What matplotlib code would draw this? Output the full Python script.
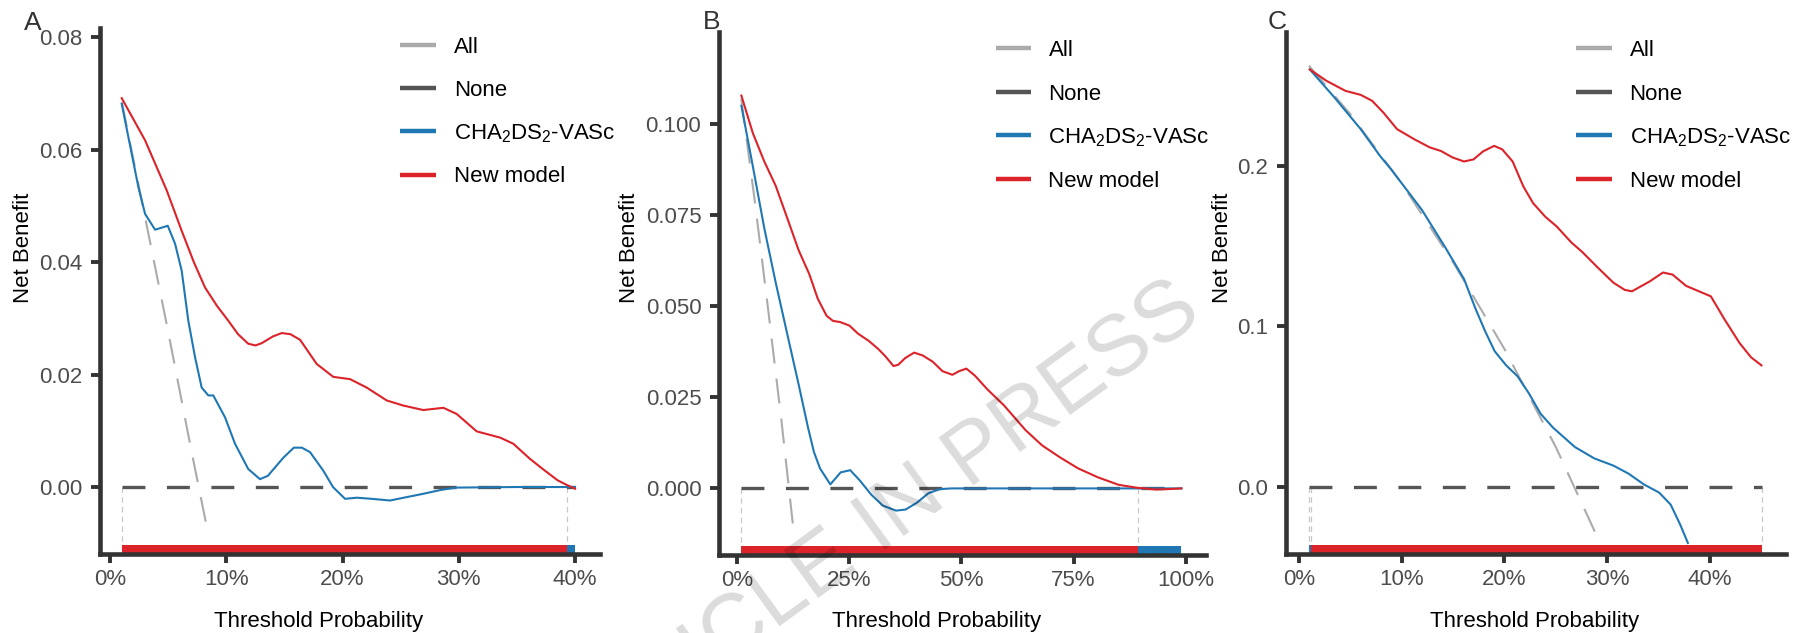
import matplotlib
matplotlib.use('Agg')
import matplotlib.pyplot as plt
from matplotlib.transforms import blended_transform_factory
from matplotlib.patches import Rectangle
from matplotlib.lines import Line2D

plt.rcParams['font.family'] = ['Liberation Sans', 'DejaVu Sans']
plt.rcParams['mathtext.fontset'] = 'custom'
plt.rcParams['mathtext.rm'] = 'Liberation Sans'
plt.rcParams['lines.scale_dashes'] = False

# ---------------- data ----------------
legend_labels = ['All', 'None', r'CHA$_\mathregular{2}$DS$_\mathregular{2}$-VASc', 'New model']

# Panel A
thr_A_new = [0.0099, 0.0300, 0.0486, 0.0615, 0.0720, 0.0816, 0.0920, 0.1016, 0.1100, 0.1188,
             0.1250, 0.1304, 0.1400, 0.1476, 0.1550, 0.1634, 0.1777, 0.1920, 0.2064, 0.2207,
             0.2380, 0.2522, 0.2694, 0.2867, 0.2982, 0.3154, 0.3355, 0.3469, 0.3613, 0.3729,
             0.3850, 0.3926, 0.4000]
nb_A_new = [0.0692, 0.0617, 0.0528, 0.0456, 0.0400, 0.0355, 0.0322, 0.0296, 0.0272, 0.0255,
            0.0252, 0.0256, 0.0268, 0.0274, 0.0272, 0.0262, 0.0219, 0.0196, 0.0192, 0.0177,
            0.0154, 0.0145, 0.0137, 0.0141, 0.0130, 0.0099, 0.0088, 0.0077, 0.0050, 0.0031,
            0.0012, 0.0004, -0.0003]
thr_A_cha = [0.0099, 0.0185, 0.0242, 0.0300, 0.0386, 0.0450, 0.0495, 0.0558, 0.0615, 0.0672,
             0.0730, 0.0787, 0.0844, 0.0887, 0.0988, 0.1074, 0.1188, 0.1289, 0.1357, 0.1489,
             0.1580, 0.1650, 0.1720, 0.1834, 0.1917, 0.2021, 0.2121, 0.2250, 0.2408, 0.2550,
             0.2695, 0.2850, 0.2982, 0.3500, 0.4000]
nb_A_cha = [0.0682, 0.0593, 0.0534, 0.0486, 0.0458, 0.0462, 0.0465, 0.0433, 0.0385, 0.0296,
            0.0231, 0.0177, 0.0163, 0.0163, 0.0124, 0.0077, 0.0032, 0.0014, 0.0020, 0.0052,
            0.0070, 0.0070, 0.0062, 0.0029, 0.0000, -0.0021, -0.0019, -0.0021, -0.0024, -0.0018,
            -0.0012, -0.0005, -0.0001, 0.0000, 0.0000]
thr_A_all = [0.01, 0.03, 0.05, 0.07, 0.083]
nb_A_all = [0.0685, 0.0480, 0.0275, 0.0063, -0.0070]
thr_A_none = [0.01, 0.40]
bar_A_edges = [0.01, 0.3928, 0.40]
bar_A_best = ['New model', 'CHA2DS2-VASc']
vline_A = [0.01, 0.3928]

# Panel B
thr_B_new = [0.0102, 0.0357, 0.0612, 0.0734, 0.0867, 0.1122, 0.1378, 0.1616, 0.1803, 0.2000,
             0.2143, 0.2300, 0.2510, 0.2700, 0.2940, 0.3150, 0.3300, 0.3490, 0.3600, 0.3750,
             0.3950, 0.4141, 0.4363, 0.4580, 0.4800, 0.4950, 0.5112, 0.5300, 0.5580, 0.5950,
             0.6430, 0.6800, 0.7200, 0.7600, 0.8050, 0.8500, 0.8900, 0.9330, 0.9600, 0.9900]
nb_B_new = [0.1079, 0.0976, 0.0898, 0.0866, 0.0831, 0.0743, 0.0654, 0.0588, 0.0521, 0.0474,
            0.0460, 0.0457, 0.0447, 0.0425, 0.0405, 0.0383, 0.0364, 0.0336, 0.0340, 0.0358,
            0.0373, 0.0365, 0.0348, 0.0322, 0.0312, 0.0322, 0.0329, 0.0310, 0.0272, 0.0228,
            0.0160, 0.0118, 0.0085, 0.0055, 0.0030, 0.0010, 0.0002, -0.0003, -0.0002, 0.0000]
thr_B_cha = [0.0102, 0.0357, 0.0612, 0.0867, 0.1122, 0.1378, 0.1590, 0.1718, 0.1853, 0.2083,
             0.2313, 0.2526, 0.2738, 0.2993, 0.3248, 0.3546, 0.3759, 0.4014, 0.4269, 0.4524,
             0.4779, 0.7000, 0.9900]
nb_B_cha = [0.1051, 0.0885, 0.0715, 0.0565, 0.0425, 0.0285, 0.0165, 0.0100, 0.0055, 0.0011,
            0.0044, 0.0050, 0.0022, -0.0017, -0.0047, -0.0061, -0.0058, -0.0039, -0.0013, -0.0002,
            0.0000, 0.0000, 0.0000]
thr_B_all = [0.01, 0.04, 0.07, 0.10, 0.125]
nb_B_all = [0.107, 0.079, 0.049, 0.018, -0.010]
thr_B_none = [0.01, 0.99]
bar_B_edges = [0.01, 0.894, 0.99]
bar_B_best = ['New model', 'CHA2DS2-VASc']
vline_B = [0.01, 0.894]

# Panel C
thr_C_new = [0.0108, 0.0268, 0.0454, 0.0603, 0.0714, 0.0826, 0.0956, 0.1124, 0.1273, 0.1384,
             0.1496, 0.1607, 0.1700, 0.1793, 0.1900, 0.1979, 0.2080, 0.2184, 0.2280, 0.2400,
             0.2507, 0.2649, 0.2761, 0.2896, 0.3059, 0.3170, 0.3240, 0.3414, 0.3542, 0.3635,
             0.3766, 0.3877, 0.4007, 0.4138, 0.4287, 0.4398, 0.4499]
nb_C_new = [0.2597, 0.2527, 0.2464, 0.2439, 0.2402, 0.2327, 0.2226, 0.2163, 0.2113, 0.2090,
            0.2050, 0.2025, 0.2038, 0.2088, 0.2122, 0.2100, 0.2025, 0.1870, 0.1765, 0.1680,
            0.1622, 0.1523, 0.1460, 0.1373, 0.1272, 0.1227, 0.1218, 0.1280, 0.1335, 0.1322,
            0.1252, 0.1222, 0.1187, 0.1046, 0.0896, 0.0808, 0.0758]
thr_C_cha = [0.0108, 0.0342, 0.0603, 0.0790, 0.0900, 0.1198, 0.1421, 0.1607, 0.1719, 0.1812,
             0.1905, 0.2017, 0.2128, 0.2240, 0.2352, 0.2474, 0.2686, 0.2873, 0.3059, 0.3207,
             0.3356, 0.3505, 0.3617, 0.3710, 0.3784]
nb_C_cha = [0.2597, 0.2427, 0.2226, 0.2060, 0.1975, 0.1724, 0.1495, 0.1295, 0.1110, 0.0971,
            0.0846, 0.0758, 0.0690, 0.0582, 0.0457, 0.0370, 0.0250, 0.0180, 0.0135, 0.0085,
            0.0018, -0.0033, -0.0108, -0.0233, -0.0346]
thr_C_all = [0.01, 0.05, 0.10, 0.15, 0.20, 0.25, 0.293]
nb_C_all = [0.262, 0.232, 0.189, 0.140, 0.086, 0.025, -0.0346]
thr_C_none = [0.01, 0.45]
bar_C_edges = [0.010, 0.012, 0.45]
bar_C_best = ['CHA2DS2-VASc', 'New model']
vline_C = [0.010, 0.012, 0.45]

xticks_A = [0, 0.1, 0.2, 0.3, 0.4]; xlabels_A = ['0%', '10%', '20%', '30%', '40%']
yticks_A = [0, 0.02, 0.04, 0.06, 0.08]; ylabels_A = ['0.00', '0.02', '0.04', '0.06', '0.08']
xticks_B = [0, 0.25, 0.5, 0.75, 1.0]; xlabels_B = ['0%', '25%', '50%', '75%', '100%']
yticks_B = [0, 0.025, 0.05, 0.075, 0.1]; ylabels_B = ['0.000', '0.025', '0.050', '0.075', '0.100']
xticks_C = [0, 0.1, 0.2, 0.3, 0.4]; xlabels_C = ['0%', '10%', '20%', '30%', '40%']
yticks_C = [0, 0.1, 0.2]; ylabels_C = ['0.0', '0.1', '0.2']

# ---------------- styling ----------------
C_ALL = '#ABABAB'
C_NONE = '#555555'
C_CHA = '#1F78B4'
C_NEW = '#DC2329'
C_AX = '#333333'
best_color = {'New model': C_NEW, 'CHA2DS2-VASc': C_CHA}

W, H = 1803, 633
fig = plt.figure(figsize=(W / 100, H / 100), dpi=100)


def fx(px):
    return px / W


def fy(py):
    return 1 - py / H


panels = [
    dict(letter='A', box=(100, 600, 28, 554), xlim=(-0.0088, 0.4215), ylim=(-0.01192, 0.08169),
         new=(thr_A_new, nb_A_new), cha=(thr_A_cha, nb_A_cha), all=(thr_A_all, nb_A_all),
         none=thr_A_none, edges=bar_A_edges, best=bar_A_best, vl=vline_A,
         xt=(xticks_A, xlabels_A), yt=(yticks_A, ylabels_A),
         letter_xy=(24, 29.5), leg=(400, 436, 454, [45, 88.3, 131, 174.5]),
         xlab=(318.8, 627), ylab=(24, 248)),
    dict(letter='B', box=(719, 1205.5, 32, 555), xlim=(-0.0396, 1.0437), ylim=(-0.01829, 0.12535),
         new=(thr_B_new, nb_B_new), cha=(thr_B_cha, nb_B_cha), all=(thr_B_all, nb_B_all),
         none=thr_B_none, edges=bar_B_edges, best=bar_B_best, vl=vline_B,
         xt=(xticks_B, xlabels_B), yt=(yticks_B, ylabels_B),
         letter_xy=(703, 29), leg=(996, 1031, 1048.5, [48.4, 92, 135.2, 178.8]),
         xlab=(936.7, 627), ylab=(629.5, 248)),
    dict(letter='C', box=(1286, 1785.5, 32, 554), xlim=(-0.01235, 0.4733), ylim=(-0.04145, 0.28297),
         new=(thr_C_new, nb_C_new), cha=(thr_C_cha, nb_C_cha), all=(thr_C_all, nb_C_all),
         none=thr_C_none, edges=bar_C_edges, best=bar_C_best, vl=vline_C,
         xt=(xticks_C, xlabels_C), yt=(yticks_C, ylabels_C),
         letter_xy=(1268, 29), leg=(1576, 1612, 1629.5, [48.4, 92, 135.2, 178.8]),
         xlab=(1534.8, 627), ylab=(1222, 248)),
]

BAR_PX = 9.5

for p in panels:
    l, r, t, b = p['box']
    ax = fig.add_axes([fx(l), fy(b), (r - l) / W, (b - t) / H])
    ax.set_xlim(*p['xlim'])
    ax.set_ylim(*p['ylim'])
    for s in ['top', 'right']:
        ax.spines[s].set_visible(False)
    for s in ['left', 'bottom']:
        ax.spines[s].set_linewidth(3.3)
        ax.spines[s].set_color(C_AX)
        ax.spines[s].set_capstyle('projecting')
    ax.tick_params(length=6.2, width=2.8, color=C_AX, labelsize=16, labelcolor='#4D4D4D')
    ax.tick_params(axis='y', pad=6.5)
    ax.tick_params(axis='x', pad=4.5)
    ax.set_xticks(p['xt'][0])
    ax.set_xticklabels(p['xt'][1])
    ax.set_yticks(p['yt'][0])
    ax.set_yticklabels(p['yt'][1])
    ax.patch.set_alpha(0)

    ymin, ymax = p['ylim']
    bar_h = BAR_PX / (b - t)
    bar_top = ymin + bar_h * (ymax - ymin)

    # best-model bar at the bottom
    trans = blended_transform_factory(ax.transData, ax.transAxes)
    edges = p['edges']
    for i, name in enumerate(p['best']):
        ax.add_patch(Rectangle((edges[i], 0), edges[i + 1] - edges[i], bar_h, transform=trans,
                               facecolor=best_color[name], edgecolor='none', lw=0, zorder=2,
                               clip_on=False))

    # light vertical dashed guides
    for xv in p['vl']:
        ax.plot([xv, xv], [0, bar_top], color='#C8C8C8', lw=0.9, dashes=(4, 3), zorder=1)

    # treat all / treat none
    ax.plot(p['all'][0], p['all'][1], color=C_ALL, lw=1.5, dashes=(18, 11), zorder=2)
    ax.plot(p['none'], [0, 0], color=C_NONE, lw=2.4, dashes=(16.5, 15.5), zorder=2)

    # models
    ax.plot(p['cha'][0], p['cha'][1], color=C_CHA, lw=1.5, zorder=3,
            solid_joinstyle='round')
    ax.plot(p['new'][0], p['new'][1], color=C_NEW, lw=1.5, zorder=3,
            solid_joinstyle='round')

    # panel letter
    fig.text(fx(p['letter_xy'][0]), fy(p['letter_xy'][1]), p['letter'], fontsize=19,
             color=C_AX, ha='left', va='baseline')

    # axis titles
    fig.text(fx(p['xlab'][0]), fy(p['xlab'][1]), 'Threshold Probability', fontsize=16,
             color='black', ha='center', va='baseline')
    fig.text(fx(p['ylab'][0]), fy(p['ylab'][1]), 'Net Benefit', fontsize=16, color='black',
             ha='center', va='center', rotation=90)

    # legend
    k0, k1, tx, rows = p['leg']
    for lab, col, yy in zip(legend_labels, [C_ALL, C_NONE, C_CHA, C_NEW], rows):
        fig.add_artist(Line2D([fx(k0), fx(k1)], [fy(yy), fy(yy)], color=col, lw=3.2,
                              solid_capstyle='butt'))
        fig.text(fx(tx), fy(yy + 8), lab, fontsize=16, color='black', ha='left', va='baseline')

# watermark
fig.text(fx(872), fy(532), 'ARTICLE IN PRESS', fontsize=62, rotation=36, color='black',
         alpha=0.14, ha='center', va='center', rotation_mode='anchor', zorder=10)

fig.savefig('out.png', dpi=100)
